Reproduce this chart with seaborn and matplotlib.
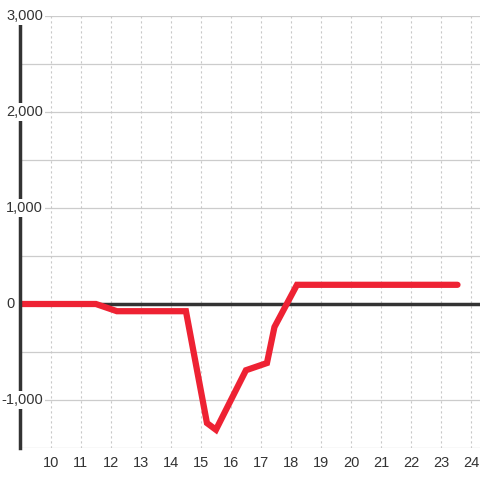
import numpy as np
import pandas as pd
import matplotlib.pyplot as plt
import seaborn as sns

# data
hours = [9.0, 11.5, 12.2, 14.5, 15.2, 15.5, 16.5, 17.2, 17.45, 18.2, 23.55]
values = [0, 0, -75, -75, -1240, -1310, -690, -615, -240, 200, 200]
x_ticks = list(range(10, 25))
y_labels = [3000, 2000, 1000, -1000]

df = pd.DataFrame({'hour': hours, 'value': values})

sns.set_style('white')
plt.rcParams['font.family'] = ['Liberation Sans', 'DejaVu Sans']

fig = plt.figure(figsize=(4.8, 4.8), dpi=100)
ax = fig.add_axes([20/480, 32/480, 460/480, 432/480])

# grid: solid horizontal lines every 500, dotted verticals per hour
for y in np.arange(-1500, 3001, 500):
    ax.axhline(y, color='#cccccc', lw=0.9, zorder=1)
for x in x_ticks:
    ax.axvline(x, color='#c8c8c8', lw=0.8, ls=(0, (2, 2.5)), zorder=1)
ax.axhline(0, color='#333333', lw=2.5, zorder=2)

sns.lineplot(data=df, x='hour', y='value', color='#ee2233', lw=4.5,
             ax=ax, zorder=3, solid_joinstyle='miter')

ax.set_xlim(8.97, 24.3)
ax.set_ylim(-1500, 3000)
for s in ['top', 'right', 'bottom']:
    ax.spines[s].set_visible(False)
ax.spines['left'].set_color('#333333')
ax.spines['left'].set_linewidth(2.5)
ax.spines['left'].set_zorder(4)

ax.set_xticks(x_ticks)
ax.set_xticklabels([str(t) for t in x_ticks])
ax.tick_params(axis='x', length=0, labelsize=10.5, labelcolor='#333333', pad=6)
ax.set_yticks([])
ax.set_xlabel('')
ax.set_ylabel('')

# y labels sit on top of the spine with a white background
tr = ax.get_yaxis_transform()
for v in y_labels:
    ax.text(23/460, v, f'{v:,}', transform=tr, ha='right', va='center',
            fontsize=10.5, color='#333333', zorder=5, clip_on=False,
            bbox=dict(facecolor='white', edgecolor='none', pad=1.5))
ax.text(-5/460, 0, '0', transform=tr, ha='right', va='center',
        fontsize=10.5, color='#333333', zorder=5, clip_on=False)

fig.savefig('out.png', dpi=100, facecolor='white')
